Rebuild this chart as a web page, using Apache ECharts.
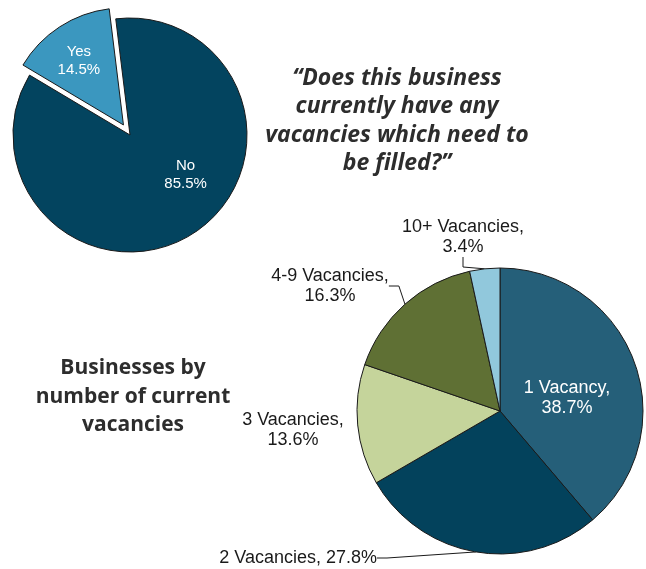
<!DOCTYPE html>
<html><head><meta charset="utf-8">
<script src="https://cdn.jsdelivr.net/npm/echarts@6/dist/echarts.min.js"></script>
<style>html,body{margin:0;padding:0;background:#fff}#c{width:646px;height:569px}</style>
</head><body><div id="c"></div>
<script>
const q1Names = ['No', 'Yes'];
const q1Values = [85.5, 14.5];
const vacNames = ['1 Vacancy', '2 Vacancies', '3 Vacancies', '4-9 Vacancies', '10+ Vacancies'];
const vacValues = [38.7, 27.8, 13.6, 16.3, 3.4];

const q1Colors = ['#03445f', '#3b97bf'];
const vacColors = ['#255f79', '#03425c', '#c5d49b', '#5f7034', '#91c8dc'];

const chart = echarts.init(document.getElementById('c'), null, {renderer: 'canvas'});

const vacLabelPos = [
  {x: 567, y: 398, align: 'center'},
  {x: 377, y: 558, align: 'right'},
  {x: 293, y: 430, align: 'center'},
  {x: 330, y: 286, align: 'center'},
  {x: 463, y: 237, align: 'center'}
];

const titleStyle = {fontFamily: 'Open Sans', fontWeight: 'bold', fontSize: 21, lineHeight: 28.5, color: '#2d2d2d'};
const yesLabelOffset = [-11, -13];
const noLabelOffset = [22, -12];

chart.setOption({
  animation: false,
  backgroundColor: '#fff',
  title: [
    {text: '\u201CDoes this business\ncurrently have any\nvacancies which need to\nbe filled?\u201D', left: 397, top: 64, textAlign: 'center', padding: 0,
      textStyle: Object.assign({}, titleStyle, {fontStyle: 'italic', fontSize: 23})},
    {text: 'Businesses by\nnumber of current\nvacancies', left: 133, top: 354, textAlign: 'center', padding: 0,
      textStyle: titleStyle}
  ],
  series: [
    {
      type: 'pie',
      center: [130, 135],
      radius: 117,
      startAngle: 97,
      clockwise: true,
      selectedMode: 'single',
      selectedOffset: 12,
      emphasis: {disabled: true},
      itemStyle: {borderColor: '#1a1a1a', borderWidth: 1},
      label: {position: 'inside', color: '#fff', fontFamily: 'Liberation Sans', fontSize: 15, lineHeight: 18,
        formatter: p => p.name + '\n' + p.value + '%'},
      labelLine: {show: false},
      data: q1Names.map((n, i) => {
        const off = n === 'Yes' ? yesLabelOffset : noLabelOffset;
        return {name: n, value: q1Values[i], selected: n === 'Yes', itemStyle: {color: q1Colors[i]},
          label: {offset: off}, select: {label: {offset: off}, itemStyle: {color: q1Colors[i], borderColor: '#1a1a1a', borderWidth: 1}}};
      })
    },
    {
      type: 'pie',
      center: [500, 411],
      radius: 143,
      startAngle: 90,
      clockwise: true,
      emphasis: {disabled: true},
      itemStyle: {borderColor: '#1a1a1a', borderWidth: 1},
      label: {position: 'outside', color: '#1a1a1a', fontFamily: 'Liberation Sans', fontSize: 18, lineHeight: 20,
        formatter: p => p.dataIndex === 1 ? p.name + ', ' + p.value + '%' : p.name + ',\n' + p.value + '%'},
      labelLine: {show: true, length: 10, length2: 10, lineStyle: {color: '#1a1a1a', width: 1}},
      labelLayout: p => {
        const L = vacLabelPos[p.dataIndex];
        return {x: L.x, y: L.y, align: L.align, verticalAlign: 'middle'};
      },
      data: vacNames.map((n, i) => {
        const d = {name: n, value: vacValues[i], itemStyle: {color: vacColors[i]}};
        if (i === 0) { d.label = {position: 'inside', color: '#fff'}; d.labelLine = {show: false}; }
        if (i === 2) { d.labelLine = {show: false}; }
        return d;
      })
    }
  ]
});
</script>
</body></html>
